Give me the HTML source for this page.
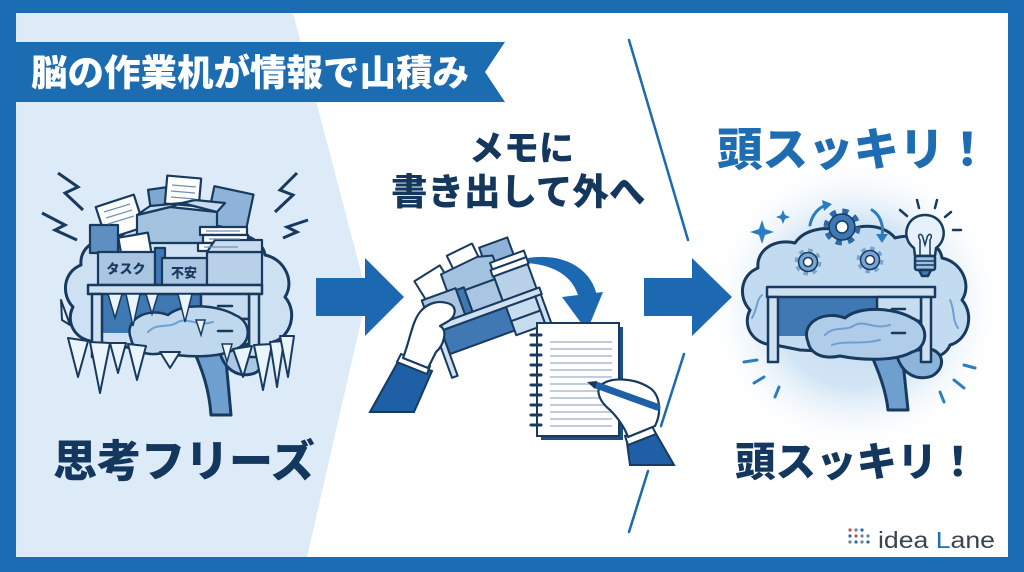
<!DOCTYPE html>
<html><head><meta charset="utf-8"><style>
html,body{margin:0;padding:0;width:1024px;height:572px;overflow:hidden;background:#fff}
svg{display:block}
.jp{font-family:"Liberation Sans","Noto Sans CJK JP",sans-serif;font-weight:900}
</style></head><body>
<svg width="1024" height="572" viewBox="0 0 1024 572" xmlns="http://www.w3.org/2000/svg">
<defs>
<radialGradient id="glow" cx="855" cy="305" r="150" gradientUnits="userSpaceOnUse">
<stop offset="0" stop-color="#bcd7ef"/>
<stop offset="0.55" stop-color="#d2e5f5"/>
<stop offset="1" stop-color="#ffffff" stop-opacity="0"/>
</radialGradient>
</defs>
<rect width="1024" height="572" fill="#1b6cb2"/>
<rect x="16" y="13" width="992" height="544" fill="#fff"/>
<polygon points="16,13 293,13 367,295 307,557 16,557" fill="#dcebf7"/>
<rect x="705" y="155" width="300" height="300" fill="url(#glow)"/>

<!-- banner -->
<polygon points="16,42 505,42 485,72 505,102 16,102" fill="#1c6cb2"/>
<text x="31" y="73" class="jp" font-size="36.5" fill="#fff" dominant-baseline="central">脳の作業机が情報で山積み</text>

<!-- diagonal separator -->
<g stroke="#1d6aad" stroke-width="2.5" stroke-linecap="round">
<line x1="629" y1="40" x2="688" y2="240"/>
<line x1="684" y1="354" x2="661" y2="426"/>
<line x1="648" y1="471" x2="629" y2="532"/>
</g>

<!-- arrows -->
<polygon points="316,278 365,278 365,258 404,297 365,336 365,316 316,316" fill="#1c68b1"/>
<polygon points="644,278 692,278 692,258 732,297 692,336 692,316 644,316" fill="#1c68b1"/>

<!-- texts -->
<text x="469" y="149" class="jp" font-size="35" fill="#14375d" dominant-baseline="central">メモに</text>
<text x="391" y="192" class="jp" font-size="36.5" fill="#14375d" dominant-baseline="central">書き出して外へ</text>
<text x="53" y="462" class="jp" font-size="44" fill="#14375d" dominant-baseline="central">思考フリーズ</text>
<text x="717" y="150" class="jp" font-size="45.5" fill="#1e6db3" dominant-baseline="central">頭スッキリ！</text>
<text x="735" y="462" class="jp" font-size="40.5" fill="#14375d" dominant-baseline="central">頭スッキリ！</text>

<!-- ============ RIGHT BRAIN ============ -->
<g stroke="#173a5e" stroke-width="3" stroke-linejoin="round">
<path d="M775,345 C752,345 742,325 750,310 C738,298 740,275 758,268 C756,250 775,238 795,243 C805,228 830,225 845,233 C860,222 885,225 895,238 C915,232 940,242 942,258 C962,262 972,285 962,300 C975,315 968,340 950,345 C945,358 925,362 912,356 L800,350 Z" fill="#c3dbf0"/>
<path d="M870,352 L902,352 L908,410 L888,410 C886,390 878,370 870,352 Z" fill="#6f9fcf"/>
<path d="M896,352 C900,372 915,382 932,376 C946,368 944,352 930,349 Z" fill="#8db4da"/>
<rect x="778" y="296" width="100" height="40" fill="#3f78b2" stroke="none"/>
<rect x="767" y="287" width="168" height="10" fill="#cfe0f1" stroke-width="2.5"/>
<rect x="768" y="297" width="10" height="65" fill="#cfe0f1" stroke-width="2.5"/>
<rect x="921" y="297" width="10" height="65" fill="#cfe0f1" stroke-width="2.5"/>
<rect x="877" y="297" width="44" height="24" fill="#c8dcef" stroke-width="2.5"/>
<rect x="877" y="321" width="44" height="24" fill="#c8dcef" stroke-width="2.5"/>
<path d="M808,342 C800,322 825,310 845,318 C860,305 895,308 912,318 C930,325 928,348 912,352 C895,362 860,360 840,356 C820,360 810,352 808,342 Z" fill="#afcde8"/>
</g>
<g stroke="#173a5e" stroke-width="2.5" stroke-linecap="round">
<line x1="892" y1="309" x2="905" y2="309"/><line x1="892" y1="333" x2="905" y2="333"/>
</g>
<g fill="none" stroke="#6e9fcf" stroke-width="2" stroke-linecap="round">
<path d="M825,335 C835,325 845,332 855,325 C865,320 875,330 890,325"/>
<path d="M832,345 C845,340 860,345 880,340"/>
<path d="M752,318 C758,308 756,300 762,295"/>
<path d="M950,300 C955,310 952,320 958,328"/>
</g>
<!-- gears -->
<g>
<circle cx="842" cy="227" r="15" fill="none" stroke="#2f6aa8" stroke-width="7" stroke-dasharray="5.9 5.9"/>
<circle cx="842" cy="227" r="13" fill="#3f78b4" stroke="#173a5e" stroke-width="1.5"/>
<circle cx="842" cy="227" r="6" fill="#fff" stroke="#173a5e" stroke-width="1.5"/>
<circle cx="808" cy="262" r="11" fill="none" stroke="#7aa5d2" stroke-width="5" stroke-dasharray="4.3 4.3"/>
<circle cx="808" cy="262" r="9.5" fill="#7aa5d2" stroke="#173a5e" stroke-width="1.5"/>
<circle cx="808" cy="262" r="4.5" fill="#fff" stroke="#173a5e" stroke-width="1.5"/>
<circle cx="870" cy="260" r="11" fill="none" stroke="#7aa5d2" stroke-width="5" stroke-dasharray="4.3 4.3"/>
<circle cx="870" cy="260" r="9.5" fill="#7aa5d2" stroke="#173a5e" stroke-width="1.5"/>
<circle cx="870" cy="260" r="4.5" fill="#fff" stroke="#173a5e" stroke-width="1.5"/>
</g>
<g fill="none" stroke="#2a7dc0" stroke-width="3" stroke-linecap="round">
<path d="M810,225 C812,215 818,208 826,205"/>
<path d="M872,210 C880,215 884,225 882,236"/>
</g>
<polygon points="822,200 832,204 824,211" fill="#2a7dc0"/>
<polygon points="876,234 888,234 882,243" fill="#2a7dc0"/>
<!-- sparkles -->
<path d="M762,220 L765,229 L774,232 L765,235 L762,244 L759,235 L750,232 L759,229 Z" fill="#2a7dc0"/>
<path d="M783,210 L785,215 L790,217 L785,219 L783,224 L781,219 L776,217 L781,215 Z" fill="#2a7dc0"/>
<!-- bulb -->
<g stroke="#173a5e" stroke-width="2.5" stroke-linejoin="round">
<path d="M914,248 C900,238 906,215 925,215 C944,215 950,238 936,248 L935,256 L915,256 Z" fill="#e6f1fb"/>
<rect x="915" y="256" width="20" height="14" rx="2" fill="#9dbfe0"/>
<path d="M919,270 L931,270 L928,276 L922,276 Z" fill="#3f78b2"/>
</g>
<g stroke="#173a5e" stroke-width="1.5" fill="none">
<line x1="915" y1="261" x2="935" y2="261"/><line x1="915" y1="265" x2="935" y2="265"/>
<path d="M920,255 L920,240 C916,234 922,232 923,238 L925,245 L927,238 C928,232 934,234 930,240 L930,255"/>
</g>
<g stroke="#173a5e" stroke-width="2.5" stroke-linecap="round">
<line x1="900" y1="210" x2="907" y2="216"/>
<line x1="917" y1="200" x2="919" y2="208"/>
<line x1="937" y1="200" x2="935" y2="208"/>
<line x1="951" y1="212" x2="945" y2="217"/>
<line x1="953" y1="230" x2="961" y2="230"/>
</g>
<g stroke="#2a7dc0" stroke-width="3" stroke-linecap="round">
<line x1="744" y1="362" x2="757" y2="360"/>
<line x1="754" y1="383" x2="764" y2="377"/>
<line x1="775" y1="397" x2="779" y2="387"/>
<line x1="964" y1="365" x2="975" y2="368"/>
<line x1="954" y1="380" x2="964" y2="388"/>
<line x1="940" y1="392" x2="944" y2="402"/>
</g>

<!-- ============ LEFT BRAIN (frozen) ============ -->
<g fill="none" stroke="#173a5e" stroke-width="3" stroke-linejoin="miter">
<polyline points="58,173 78,187 65,193 83,210"/>
<polyline points="42,213 65,225 55,230 77,240"/>
<polyline points="297,173 280,190 293,195 275,212"/>
<polyline points="308,220 287,227 297,232 283,238"/>
</g>
<g transform="translate(-677,-3)" stroke="#173a5e" stroke-width="3" stroke-linejoin="round">
<path d="M775,345 C752,345 742,325 750,310 C738,298 740,275 758,268 C756,250 775,238 795,243 C805,228 830,225 845,233 C860,222 885,225 895,238 C915,232 940,242 942,258 C962,262 972,285 962,300 C975,315 968,340 950,345 C945,358 925,362 912,356 L800,350 Z" fill="#cde1f3"/>
<path d="M870,352 L902,352 L908,418 L888,418 C886,390 878,370 870,352 Z" fill="#6f9fcf"/>
<path d="M896,352 C900,372 915,382 932,376 C946,368 944,352 930,349 Z" fill="#a9c8e6"/>
</g>
<!-- clutter -->
<g stroke="#173a5e" stroke-width="2.2" stroke-linejoin="round">
<rect x="150" y="188" width="24" height="30" fill="#7fa8d0" transform="rotate(-8 162 203)"/>
<rect x="210" y="190" width="40" height="38" fill="#8fb3d8" transform="rotate(12 230 209)"/>
<rect x="100" y="200" width="40" height="34" fill="#fff" transform="rotate(-18 120 217)"/>
<rect x="166" y="177" width="34" height="28" fill="#fff" transform="rotate(5 183 191)"/>
<rect x="90" y="225" width="28" height="28" fill="#5d8fc2"/>
<path d="M137,243 L137,215 L170,207 L217,212 L217,243 Z" fill="#a3c2e0"/>
<path d="M137,215 L150,206 L182,203 L170,207 Z" fill="#c9dcef"/>
<path d="M217,212 L225,203 L195,200 L182,203 Z" fill="#c9dcef"/>
<rect x="200" y="227" width="47" height="8" fill="#fff"/>
<rect x="203" y="235" width="45" height="8" fill="#fff"/>
<rect x="198" y="243" width="48" height="8" fill="#fff"/>
<rect x="120" y="235" width="30" height="22" fill="#fff" transform="rotate(-10 135 246)"/>
<rect x="98" y="252" width="57" height="33" fill="#a9c5e2"/>
<rect x="155" y="248" width="10" height="37" fill="#3f78b2"/>
<rect x="162" y="258" width="45" height="27" fill="#a9c5e2"/>
<rect x="207" y="252" width="55" height="33" fill="#b8d0e8"/>
<path d="M207,252 L215,240 L262,240 L262,252 Z" fill="#c9dcef"/>
</g>
<g stroke="#6f8fb0" stroke-width="1.2">
<line x1="104" y1="212" x2="130" y2="204"/><line x1="106" y1="218" x2="132" y2="210"/><line x1="108" y1="224" x2="134" y2="216"/>
<line x1="172" y1="185" x2="196" y2="187"/><line x1="171" y1="191" x2="195" y2="193"/><line x1="171" y1="197" x2="195" y2="199"/>
<line x1="206" y1="231" x2="240" y2="231"/><line x1="209" y1="239" x2="240" y2="239"/><line x1="204" y1="247" x2="238" y2="247"/>
</g>
<text x="126" y="269" class="jp" font-size="13" font-weight="700" fill="#173a5e" text-anchor="middle" dominant-baseline="central">タスク</text>
<text x="184" y="273" class="jp" font-size="13" font-weight="700" fill="#173a5e" text-anchor="middle" dominant-baseline="central">不安</text>
<!-- desk -->
<g stroke="#173a5e" stroke-width="2.5" stroke-linejoin="round">
<rect x="101" y="293" width="100" height="40" fill="#3f78b2" stroke="none"/>
<rect x="88" y="285" width="174" height="9" fill="#cfe0f1"/>
<rect x="92" y="294" width="10" height="63" fill="#cfe0f1"/>
<rect x="249" y="294" width="10" height="63" fill="#cfe0f1"/>
<rect x="201" y="294" width="48" height="25" fill="#c8dcef"/>
<rect x="201" y="319" width="48" height="25" fill="#c8dcef"/>
<path d="M131,339 C123,319 148,307 168,315 C183,302 218,305 235,315 C253,322 251,345 235,349 C218,359 183,357 163,353 C143,357 133,349 131,339 Z" fill="#c0d8ee"/>
</g>
<g stroke="#173a5e" stroke-width="2.5" stroke-linecap="round">
<line x1="218" y1="306" x2="232" y2="306"/><line x1="218" y1="331" x2="232" y2="331"/>
</g>
<g fill="none" stroke="#6e9fcf" stroke-width="2" stroke-linecap="round">
<path d="M148,332 C158,322 168,329 178,322 C188,317 198,327 213,322"/>
</g>
<!-- icicles -->
<g fill="#eaf4fc" stroke="#173a5e" stroke-width="2" stroke-linejoin="round">
<polygon points="68,338 88,341 78,377"/>
<polygon points="90,342 110,343 100,393"/>
<polygon points="110,343 126,343 118,373"/>
<polygon points="128,344 146,346 137,380"/>
<polygon points="160,352 180,352 170,368"/>
<polygon points="233,349 252,346 243,377"/>
<polygon points="254,345 272,344 263,390"/>
<polygon points="270,342 284,341 277,387"/>
<polygon points="280,336 294,336 288,377"/>
<polygon points="61,300 70,325 62,320"/>
</g>
<g fill="#eaf4fc" stroke="#173a5e" stroke-width="1.5">
<polygon points="108,294 122,294 115,318"/>
<polygon points="126,294 140,294 133,326"/>
<polygon points="146,294 158,294 152,314"/>
<polygon points="178,294 192,294 185,322"/>
<polygon points="222,344 232,344 227,362"/>
<polygon points="196,320 205,320 201,335"/>
</g>

<!-- ============ MIDDLE ============ -->
<path d="M528,258 C565,252 592,270 597,296 L579,298 C574,280 560,266 528,263 Z" fill="#1c68b1"/>
<polygon points="562,297 603,292 587,331" fill="#1c68b1"/>
<g transform="rotate(-20 483 308)" stroke="#173a5e" stroke-width="2" stroke-linejoin="round">
<rect x="468" y="245" width="28" height="24" fill="#fff" transform="rotate(-6 482 257)"/>
<rect x="500" y="250" width="30" height="28" fill="#8fb3d8"/>
<rect x="430" y="256" width="30" height="26" fill="#fff" transform="rotate(-12 445 269)"/>
<path d="M455,285 L455,262 L495,258 L510,262 L510,285 Z" fill="#a3c2e0"/>
<rect x="505" y="268" width="36" height="7" fill="#fff"/>
<rect x="503" y="275" width="38" height="7" fill="#fff"/>
<rect x="428" y="280" width="36" height="28" fill="#a9c5e2"/>
<rect x="464" y="282" width="8" height="26" fill="#3f78b2"/>
<rect x="472" y="285" width="32" height="23" fill="#a9c5e2"/>
<rect x="504" y="282" width="36" height="26" fill="#b8d0e8"/>
<rect x="436" y="315" width="70" height="25" fill="#3f78b2"/>
<rect x="425" y="308" width="118" height="7" fill="#cfe0f1"/>
<rect x="430" y="315" width="6" height="48" fill="#cfe0f1"/>
<rect x="536" y="315" width="6" height="48" fill="#cfe0f1"/>
<rect x="505" y="315" width="31" height="15" fill="#c8dcef"/>
<rect x="505" y="330" width="31" height="15" fill="#c8dcef"/>
</g>
<polygon points="370,412 399,360 432,371 414,412" fill="#1f5fa6" stroke="#173a5e" stroke-width="2"/>
<polygon points="401,354 430,366 427,374 397,362" fill="#fff" stroke="#173a5e" stroke-width="2"/>
<path d="M403,358 C410,340 412,322 420,312 C428,302 440,300 450,304 C458,308 455,318 447,322 L440,326 C448,330 444,345 436,352 L428,368 Z" fill="#fff" stroke="#173a5e" stroke-width="2.2" stroke-linejoin="round"/>
<rect x="541" y="327" width="82" height="113" fill="#1d4f85"/>
<rect x="537" y="323" width="82" height="113" fill="#fff" stroke="#173a5e" stroke-width="2"/>
<g stroke="#9ab0c6" stroke-width="1.2">
<line x1="550" y1="342" x2="612" y2="342"/><line x1="550" y1="349" x2="612" y2="349"/><line x1="550" y1="356" x2="612" y2="356"/>
<line x1="550" y1="363" x2="612" y2="363"/><line x1="550" y1="370" x2="612" y2="370"/><line x1="550" y1="377" x2="612" y2="377"/>
<line x1="550" y1="384" x2="612" y2="384"/><line x1="550" y1="391" x2="612" y2="391"/><line x1="550" y1="398" x2="612" y2="398"/>
<line x1="550" y1="405" x2="612" y2="405"/><line x1="550" y1="412" x2="612" y2="412"/><line x1="550" y1="419" x2="612" y2="419"/>
<line x1="550" y1="426" x2="612" y2="426"/>
</g>
<g stroke="#173a5e" stroke-width="3" stroke-linecap="round">
<line x1="531" y1="335" x2="541" y2="335"/><line x1="531" y1="345" x2="541" y2="345"/><line x1="531" y1="355" x2="541" y2="355"/>
<line x1="531" y1="365" x2="541" y2="365"/><line x1="531" y1="375" x2="541" y2="375"/><line x1="531" y1="385" x2="541" y2="385"/>
<line x1="531" y1="395" x2="541" y2="395"/><line x1="531" y1="405" x2="541" y2="405"/><line x1="531" y1="415" x2="541" y2="415"/>
<line x1="531" y1="425" x2="541" y2="425"/>
</g>
<polygon points="627,443 655,432 674,465 630,465" fill="#1f5fa6" stroke="#173a5e" stroke-width="2"/>
<polygon points="625,436 652,426 656,434 628,445" fill="#fff" stroke="#173a5e" stroke-width="2"/>
<path d="M600,386 C610,376 635,378 650,388 C660,395 662,412 655,426 L628,437 C624,426 618,418 610,410 C600,402 596,392 600,386 Z" fill="#fff" stroke="#173a5e" stroke-width="2.2" stroke-linejoin="round"/>
<line x1="596" y1="385" x2="657" y2="407" stroke="#1f5fa6" stroke-width="7" stroke-linecap="round"/>
<polygon points="587,382 597,381 595,389" fill="#173a5e"/>

<!-- logo -->
<g>
<circle cx="850" cy="530" r="1.6" fill="#d0484e"/><circle cx="856" cy="530" r="1.6" fill="#6d7f96"/><circle cx="862" cy="530" r="1.6" fill="#1d6db3"/>
<circle cx="850" cy="536" r="1.6" fill="#1d6db3"/><circle cx="856" cy="536" r="1.6" fill="#d0484e"/><circle cx="862" cy="536" r="1.6" fill="#6d7f96"/><circle cx="868" cy="536" r="1.6" fill="#6d7f96"/>
<circle cx="850" cy="542" r="1.6" fill="#6d7f96"/><circle cx="856" cy="542" r="1.6" fill="#1d6db3"/><circle cx="862" cy="542" r="1.6" fill="#6d7f96"/><circle cx="868" cy="542" r="1.6" fill="#1d6db3"/>
</g>
<text x="878" y="548" font-family="'Liberation Sans',sans-serif" font-size="23" fill="#3b4350" textLength="117" lengthAdjust="spacingAndGlyphs">idea <tspan fill="#1d6db3">L</tspan>ane</text>
</svg>
</body></html>
